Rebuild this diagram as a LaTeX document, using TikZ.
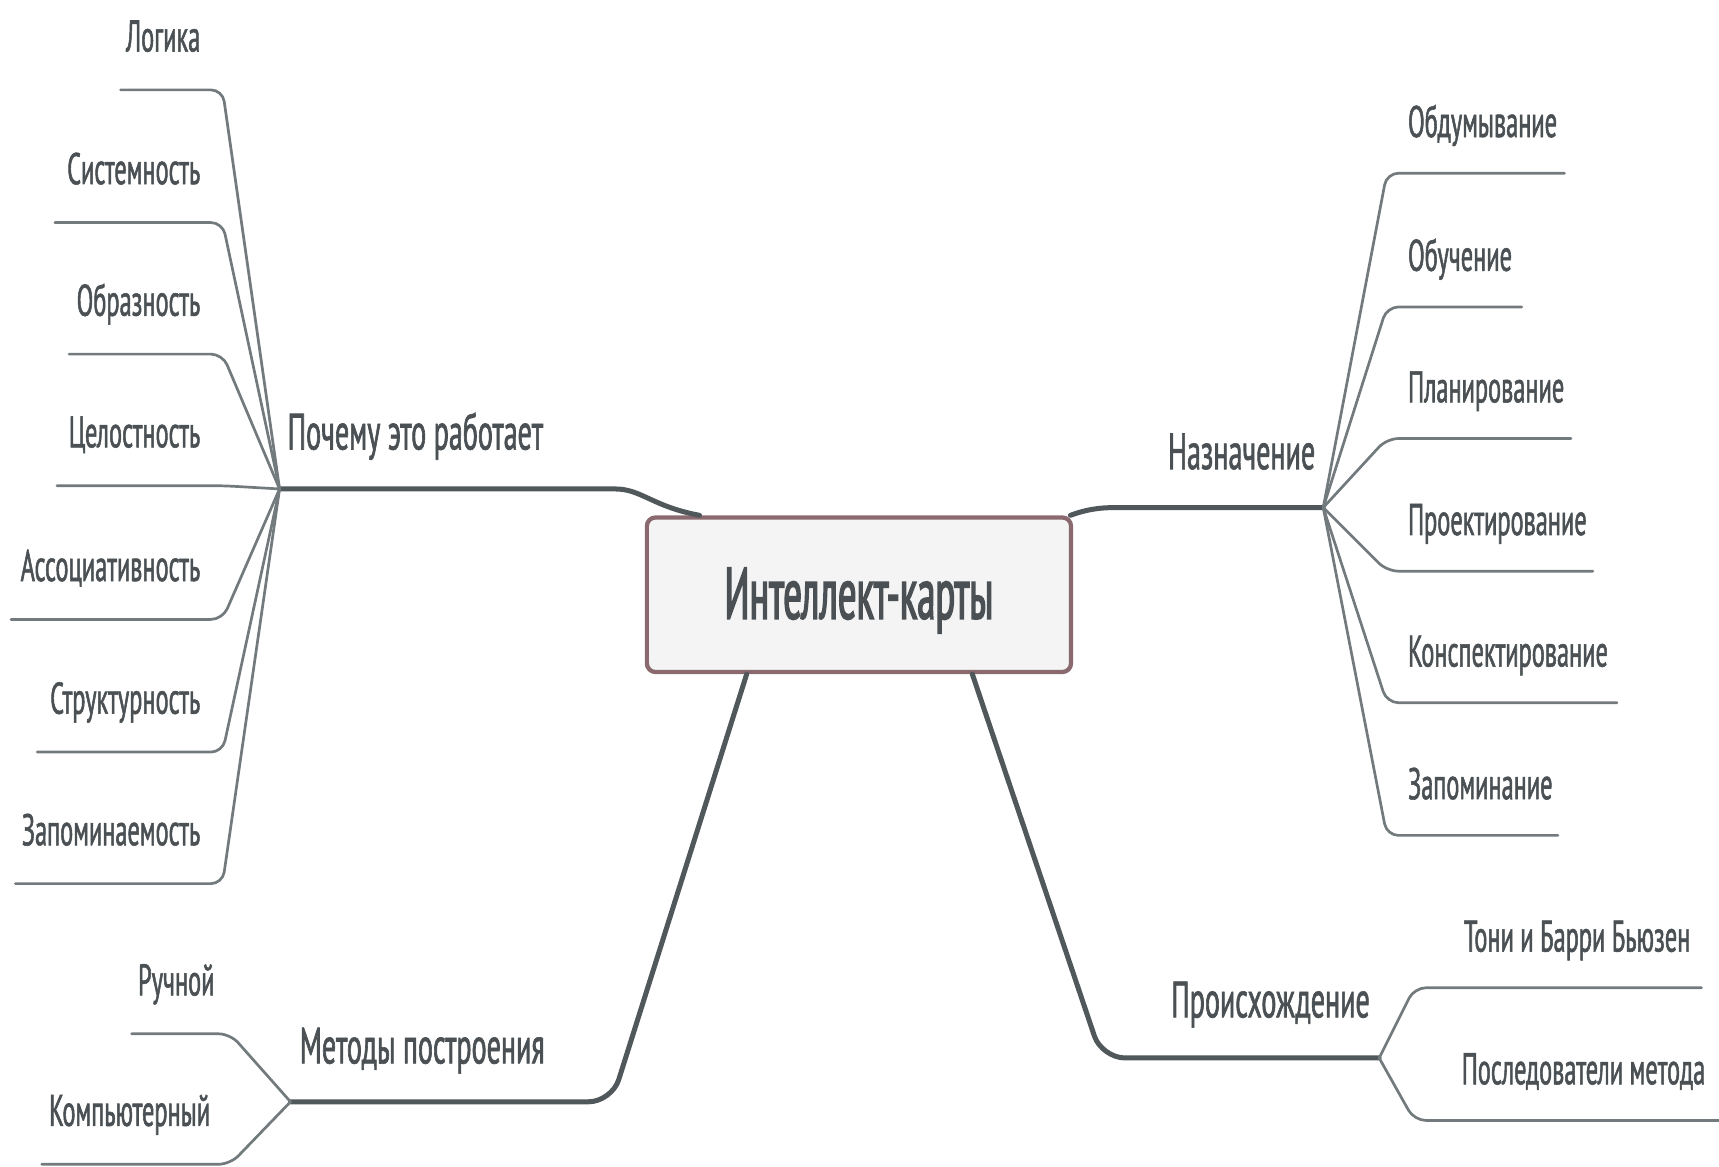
\documentclass[tikz,border=0pt]{standalone}
\usepackage{fontspec}
\setmainfont{PT Sans}[FakeStretch=0.55,FakeBold=1.2]
\newfontfamily\titlefont{PT Sans}[FakeStretch=0.5,FakeBold=2]
\definecolor{txt}{HTML}{4A5053}
\definecolor{br}{HTML}{50585B}
\definecolor{lf}{HTML}{737A7D}
\definecolor{bord}{HTML}{8A6A6F}
\definecolor{boxfill}{HTML}{F4F4F4}
\begin{document}
\begin{tikzpicture}[x=0.02cm,y=-0.02cm,
  leafL/.style={anchor=base east,inner sep=0pt,text=txt,font=\fontsize{23}{26}\selectfont},
  leafR/.style={anchor=base west,inner sep=0pt,text=txt,font=\fontsize{23}{26}\selectfont},
  branchW/.style={anchor=base west,inner sep=0pt,text=txt,font=\fontsize{26.5}{30}\selectfont},
  branchE/.style={anchor=base east,inner sep=0pt,text=txt,font=\fontsize{26.5}{30}\selectfont},
  centerbox/.style={draw=bord,line width=2.2pt,fill=boxfill,rounded corners=4.5pt,
    minimum width=7.74cm,minimum height=2.82cm,inner sep=0pt,text=txt,
    font=\titlefont\fontsize{38}{42}\selectfont},
  mainline/.style={draw=br,line width=2.6pt,line cap=round,rounded corners=12pt},
  leafline/.style={draw=lf,line width=1.4pt,line cap=round,rounded corners=6pt}]
\useasboundingbox (0,0) rectangle (1568,1064);

% central node
\node[centerbox] (center) at (783.5,542.5) {\raisebox{-3pt}[\height][\depth]{Интеллект-карты}};

% hubs and corner references
\coordinate (hubWhy) at (255,446);
\coordinate (hubAim) at (1207,463);
\coordinate (hubMet) at (265,1005);
\coordinate (hubOri) at (1258,965);
\coordinate (cornL) at (203,0);
\coordinate (cornR) at (1265,0);
\coordinate (cornM) at (210,0);
\coordinate (cornO) at (1290,0);
\coordinate (bendWhy) at (540,446);
\coordinate (bendAim) at (1040,463);
\coordinate (bendMet) at (558,1005);
\coordinate (bendOri) at (1005,965);

% branch labels
\node[branchW] (why) at (262,410) {Почему это работает};
\node[branchE] (aim) at (1200,428) {Назначение};
\node[branchW] (met) at (273,970) {Методы построения};
\node[branchW] (ori) at (1068,928) {Происхождение};

% main branches
\draw[mainline] ([xshift=1cm]center.north west) .. controls (595,462) and (585,446) .. (bendWhy) -- (hubWhy);
\draw[mainline] ([xshift=-0.05cm]center.north east) .. controls (995,463) and (1010,463) .. (bendAim) -- (hubAim);
\draw[mainline] ([xshift=1.86cm]center.south west) -- (bendMet) -- (hubMet);
\draw[mainline] ([xshift=-1.84cm]center.south east) -- (bendOri) -- (hubOri);

% left leaves (Почему это работает)
\node[leafL] (l1) at (183,47) {Логика};
\node[leafL] (l2) at (183,168) {Системность};
\node[leafL] (l3) at (183,288) {Образность};
\node[leafL] (l4) at (183,408) {Целостность};
\node[leafL] (l5) at (183,530) {Ассоциативность};
\node[leafL] (l6) at (183,651) {Структурность};
\node[leafL] (l7) at (183,771) {Запоминаемость};
\coordinate (e1) at (110,82);
\coordinate (e2) at (50,203);
\coordinate (e3) at (63,323);
\coordinate (e4) at (52,443);
\coordinate (e5) at (10,565);
\coordinate (e6) at (34,686);
\coordinate (e7) at (14,806);
\foreach \i in {1,...,7}{
  \draw[leafline] (hubWhy) -- (e\i -| cornL) -- (e\i);
}

% right leaves (Назначение)
\node[leafR] (r1) at (1284,125) {Обдумывание};
\node[leafR] (r2) at (1284,247) {Обучение};
\node[leafR] (r3) at (1284,367) {Планирование};
\node[leafR] (r4) at (1284,488) {Проектирование};
\node[leafR] (r5) at (1284,608) {Конспектирование};
\node[leafR] (r6) at (1284,729) {Запоминание};
\coordinate (f1) at (1427,158);
\coordinate (f2) at (1388,280);
\coordinate (f3) at (1433,400);
\coordinate (f4) at (1453,521);
\coordinate (f5) at (1475,641);
\coordinate (f6) at (1421,762);
\foreach \i in {1,...,6}{
  \draw[leafline] (hubAim) -- (f\i -| cornR) -- (f\i);
}

% Методы построения leaves
\node[leafL] (m1) at (196,908) {Ручной};
\node[leafL] (m2) at (192,1027) {Компьютерный};
\coordinate (g1) at (120,943);
\coordinate (g2) at (38,1062);
\foreach \i in {1,2}{
  \draw[leafline] (hubMet) -- (g\i -| cornM) -- (g\i);
}

% Происхождение leaves
\node[leafR] (o1) at (1335,868) {Тони и Барри Бьюзен};
\node[leafR] (o2) at (1333,989) {Последователи метода};
\coordinate (h1) at (1552,901);
\coordinate (h2) at (1568,1022);
\foreach \i in {1,2}{
  \draw[leafline] (hubOri) -- (h\i -| cornO) -- (h\i);
}
\end{tikzpicture}
\end{document}
